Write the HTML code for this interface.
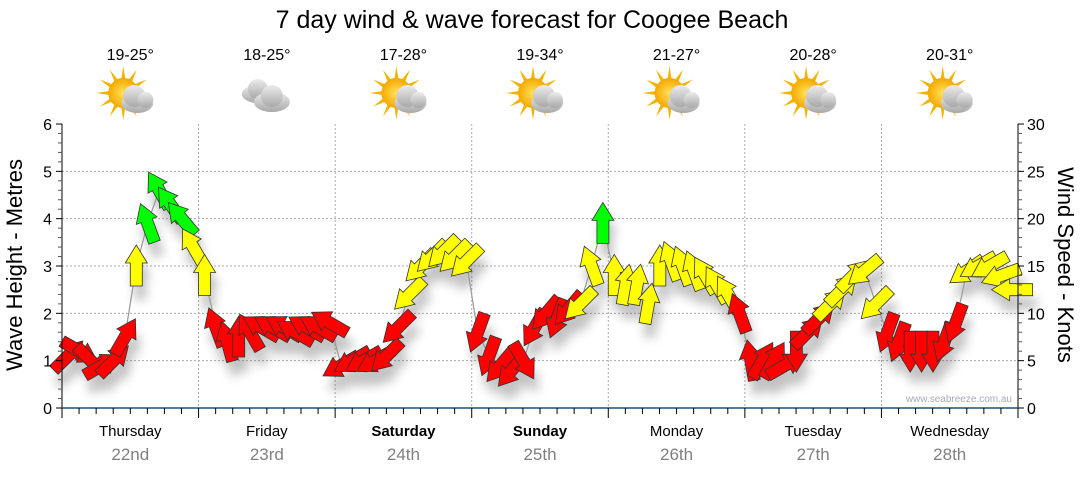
<!DOCTYPE html>
<html><head><meta charset="utf-8"><style>
body{margin:0;background:#fff;}
svg text{font-family:"Liberation Sans","DejaVu Sans",sans-serif;}
</style></head><body>
<svg id="chart" width="1080" height="475" viewBox="0 0 1080 475" xmlns="http://www.w3.org/2000/svg">
<defs>
<filter id="sh" x="-50%" y="-50%" width="200%" height="200%"><feGaussianBlur stdDeviation="5"/></filter>
<radialGradient id="sun" cx="50%" cy="50%" r="50%"><stop offset="0" stop-color="#ffe25a"/><stop offset="1" stop-color="#f5a800"/></radialGradient>
<linearGradient id="cloud" x1="0" y1="0" x2="0" y2="1"><stop offset="0" stop-color="#ececec"/><stop offset="1" stop-color="#a8a8a8"/></linearGradient>
</defs>
<text x="532" y="28" font-size="25" text-anchor="middle" fill="#000">7 day wind &amp; wave forecast for Coogee Beach</text>
<g id="grid"></g>
<g id="shadows" filter="url(#sh)" opacity="0.35"></g>
<polyline id="waveline" fill="none" stroke="#999" stroke-width="1.2"/>
<g id="arrows"></g>
<g id="axes"></g>
<g id="header"></g>
<text transform="translate(22,265) rotate(-90)" font-size="22" text-anchor="middle">Wave Height - Metres</text>
<text transform="translate(1058,265) rotate(90)" font-size="22" text-anchor="middle">Wind Speed - Knots</text>
<text x="1012" y="402" font-size="10" fill="#aab" text-anchor="end">www.seabreeze.com.au</text>
</svg>
<script>
const days=["Thursday","Friday","Saturday","Sunday","Monday","Tuesday","Wednesday"];
const dates=["22nd","23rd","24th","25th","26th","27th","28th"];
const boldDays=[false,false,true,true,false,false,false];
const temps=["19-25°","18-25°","17-28°","19-34°","21-27°","20-28°","20-31°"];
const icons=["partly","cloudy","partly","partly","partly","partly","partly"];
const waveTicks=[0,1,2,3,4,5,6];
const windTicks=[0,5,10,15,20,25,30];
// wind speed (knots), every 2 hours
const windSpeed=[5.5,6,5,4.5,5,7.5,15,19.5,23,21.5,20,17,
14,8.5,7,7.5,8,8.5,8.5,8.5,8,8.5,8.5,9,
4.5,5,5,5,5.5,8.5,12,15,16,16.5,16,15.5,
8,5.5,4.5,4,5,8.5,10,9.5,10.5,11,15,19.5,
14,13,13,11,15,15.5,15,14.5,14,13,12,10,
5,5,5,4.5,6,8,9.5,11,12.5,14,14.5,11,
8,7,6,6,6,7,9,14.5,15,15,14,12.5];
// wind direction arrow points to (degrees clockwise from up)
const windDir=[45,120,135,60,45,30,0,-20,-30,-35,-40,-30,
0,-20,-15,0,-30,-60,-60,-60,-60,-60,-60,-60,
240,240,240,240,225,225,225,225,225,225,225,225,
200,200,220,220,150,210,220,200,220,225,-20,0,
0,10,10,10,0,-20,-20,-20,-30,-30,-30,-20,
-10,30,30,60,180,45,45,45,45,45,230,225,
200,200,180,180,180,200,200,235,240,240,250,270];
const X0=62,X1=1018,Y0=408,Y1=124;
const dayW=(X1-X0)/7;
const ns="http://www.w3.org/2000/svg";
function yWave(m){return Y0-(m/6)*(Y0-Y1);}
function yWind(k){return Y0-(k/30)*(Y0-Y1);}
function xIdx(i){return X0+6+i*dayW/12;}
function mk(tag,attrs,parent){const e=document.createElementNS(ns,tag);for(const k in attrs)e.setAttribute(k,attrs[k]);parent.appendChild(e);return e;}
const grid=document.getElementById('grid'),axes=document.getElementById('axes'),header=document.getElementById('header');
waveTicks.forEach(v=>{if(v>0&&v<6){const l=mk('line',{x1:X0,x2:X1,y1:yWave(v),y2:yWave(v),stroke:'#aaa','stroke-dasharray':'2,2'},grid);

}});
for(let d=1;d<7;d++){const x=X0+d*dayW;const l=mk('line',{x1:x,x2:x,y1:Y1,y2:Y0,stroke:'#aaa','stroke-dasharray':'2,2'},grid);

}
mk('line',{x1:X0,x2:X0,y1:Y1,y2:Y0,stroke:'#000'},axes);
mk('line',{x1:X1,x2:X1,y1:Y1,y2:Y0,stroke:'#000'},axes);
mk('line',{x1:X0,x2:X1,y1:Y0,y2:Y0,stroke:'#1d4f7a','stroke-width':1.5},axes);
for(let i=0;i<=30;i++){const y=Y0-i*(Y0-Y1)/30;mk('line',{x1:X0-(i%5==0?6:4),x2:X0,y1:y,y2:y,stroke:i%5==0?'#000':'#555'},axes);
mk('line',{x1:X1,x2:X1+(i%5==0?6:4),y1:y,y2:y,stroke:i%5==0?'#000':'#555'},axes);}
waveTicks.forEach(v=>{const t=mk('text',{x:X0-10,y:yWave(v)+6,'font-size':16,'text-anchor':'end'},axes);t.textContent=v;

});
windTicks.forEach(v=>{const t=mk('text',{x:X1+9,y:yWind(v)+6,'font-size':16},axes);t.textContent=v;

});
for(let i=0;i<=56;i++){const x=X0+i*dayW/8;mk('line',{x1:x,x2:x,y1:Y0,y2:Y0+(i%8==0?10:6),stroke:'#000'},axes);}
days.forEach((d,i)=>{const cx=X0+(i+0.5)*dayW;
const t=mk('text',{x:cx,y:436,'font-size':15,'text-anchor':'middle','font-weight':boldDays[i]?'bold':'normal'},axes);t.textContent=d;


const t2=mk('text',{x:cx,y:460,'font-size':17,'text-anchor':'middle',fill:'#808080'},axes);t2.textContent=dates[i];


const t3=mk('text',{x:cx,y:60,'font-size':16,'text-anchor':'middle'},header);t3.textContent=temps[i];


const g=mk('g',{transform:`translate(${cx},97)`},header);


if(icons[i]==='partly'){
 for(let a=0;a<360;a+=30){mk('polygon',{points:'-2,-14 2,-14 0,-27',fill:'#f2b400',transform:`translate(-7,-4) rotate(${a})`},g);}
 mk('circle',{cx:-7,cy:-4,r:15,fill:'url(#sun)'},g);
 mk('ellipse',{cx:7,cy:6,rx:16,ry:10,fill:'url(#cloud)'},g);
 mk('circle',{cx:4,cy:-1,r:11,fill:'url(#cloud)'},g);
 mk('circle',{cx:15,cy:3,r:8,fill:'url(#cloud)'},g);
}else{
 mk('ellipse',{cx:-9,cy:-3,rx:16,ry:9,fill:'url(#cloud)'},g);
 mk('circle',{cx:-9,cy:-8,r:10,fill:'url(#cloud)'},g);
 mk('ellipse',{cx:5,cy:5,rx:18,ry:10,fill:'url(#cloud)'},g);
 mk('circle',{cx:5,cy:-1,r:11,fill:'url(#cloud)'},g);
}
});
const arrowPts='0,-21 11,-3 6,-3 6,20 -6,20 -6,-3 -11,-3';
const sh=document.getElementById('shadows'),ar=document.getElementById('arrows');
let line=[];
windSpeed.forEach((k,i)=>{const x=xIdx(i),y=yWind(k);line.push(x+','+y);
const col=k>=18.5?'#00ff00':(k>=11?'#ffff00':'#ff0000');
const s=mk('polygon',{points:arrowPts,fill:'#555',transform:`translate(${x+4},${y+14}) rotate(${windDir[i]})`},sh);


const a=mk('polygon',{points:arrowPts,fill:col,stroke:'#333','stroke-width':0.8,transform:`translate(${x},${y}) rotate(${windDir[i]})`},ar);

});
document.getElementById('waveline').setAttribute('points',line.join(' '));
</script>
</body></html>
